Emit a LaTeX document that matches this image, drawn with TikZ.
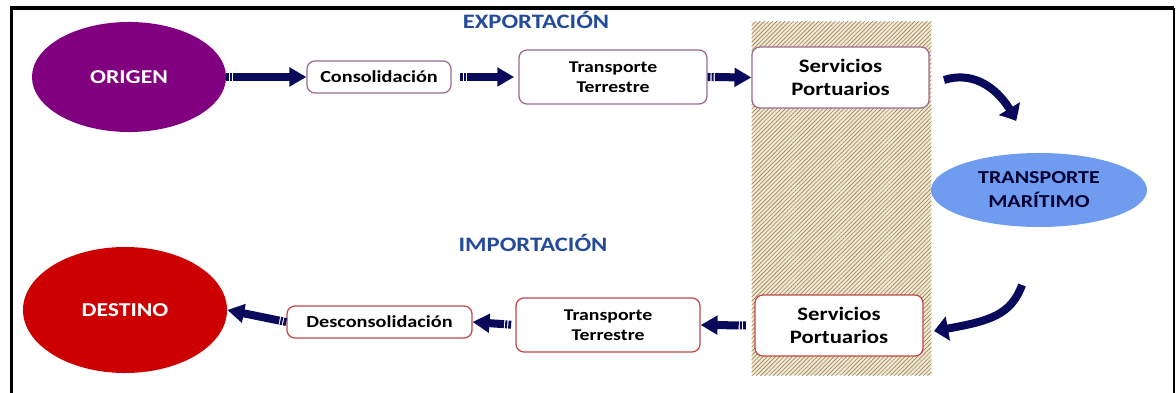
\documentclass[tikz,border=0pt]{standalone}
\usepackage{fontspec}
\setmainfont{Carlito}[FakeStretch=1.2]
\usepackage{tikz}
\usetikzlibrary{shapes.geometric, arrows.meta, positioning, patterns.meta, bending}

\definecolor{origenpurple}{HTML}{800080}
\definecolor{destinored}{HTML}{CC0000}
\definecolor{maritblue}{HTML}{6F9CEE}
\definecolor{arrownavy}{HTML}{0A0A5C}
\definecolor{titleblue}{HTML}{244B9A}
\definecolor{expborder}{HTML}{9A6B8E}
\definecolor{impborder}{HTML}{C04848}
\definecolor{zonebg}{HTML}{F2E8CF}
\definecolor{zoneline}{HTML}{988562}

\begin{document}
\begin{tikzpicture}[x=0.025cm, y=-0.025cm]
        \tikzset{
            place/.style={draw=none, ellipse, inner sep=0pt, font=\bfseries\fontsize{14}{17}\selectfont},
            expbox/.style={draw=expborder, line width=0.9pt, rounded corners=0.2cm, fill=white, align=center, inner sep=0pt, font=\bfseries\fontsize{11.7}{14.5}\selectfont},
            impbox/.style={expbox, draw=impborder},
            onebox/.style={font=\bfseries\fontsize{12}{14}\selectfont},
            portbox/.style={font=\bfseries\fontsize{13.5}{16.5}\selectfont},
            phase/.style={text=titleblue, font=\bfseries\fontsize{14.6}{16}\selectfont},
            flow/.style={draw=arrownavy, line width=5.7pt, -{Triangle[length=12pt, width=13pt]},
                dash pattern=on 2pt off 0.8pt on 1.5pt off 0.8pt on 300pt off 1pt},
            turn/.style={draw=arrownavy, line width=5.7pt, -{Triangle[length=10pt, width=17pt, bend]}}
        }

        \useasboundingbox (0,0) rectangle (1176,393);

        % Frame
        \draw[line width=2.8pt] (11.5,393) -- (11.5,8) -- (1174,8);
        \draw[line width=1.4pt] (1174,8) -- (1174,393);

        % Port zone
        \node[draw=none, fill=zonebg, minimum width=4.475cm, minimum height=8.825cm] (zone) at (841.5,198.5) {};
        \fill[pattern={Lines[angle=45, distance=2.1pt, line width=0.45pt]}, pattern color=zoneline]
            (zone.south west) rectangle (zone.north east);

        % Places
        \node[place, fill=origenpurple, text=white, minimum width=4.85cm, minimum height=2.75cm] (origen) at (129,77) {ORIGEN};
        \node[place, fill=destinored, text=white, minimum width=5.1cm, minimum height=3.15cm] (destino) at (125,310) {DESTINO};
        \node[place, fill=maritblue, text=black!80!blue, align=center, font=\bfseries\fontsize{13}{17}\selectfont,
            minimum width=5.4cm, minimum height=1.85cm] (maritimo) at (1039,190) {TRANSPORTE\\MARÍTIMO};

        % Export chain
        \node[expbox, onebox, minimum width=3.6cm, minimum height=0.8cm] (consol) at (379,77) {Consolidación};
        \node[expbox, minimum width=4.7cm, minimum height=1.35cm] (terrexp) at (613,77) {Transporte\\Terrestre};
        \node[expbox, portbox, minimum width=4.425cm, minimum height=1.525cm] (portexp) at (840.5,77.5) {Servicios\\Portuarios};

        % Import chain
        \node[impbox, onebox, minimum width=4.625cm, minimum height=0.8cm] (desconsol) at (379.5,322) {Desconsolidación};
        \node[impbox, minimum width=4.6cm, minimum height=1.35cm] (terrimp) at (608,325) {Transporte\\Terrestre};
        \node[impbox, portbox, minimum width=4.2cm, minimum height=1.525cm] (portimp) at (839,325.5) {Servicios\\Portuarios};

        % Titles
        \node[phase] (export) at (536,20) {EXPORTACIÓN};
        \node[phase] (import) at (533,243) {IMPORTACIÓN};

        % Connections
        \draw[flow] (origen.east) -- (consol.west);
        \draw[flow, shorten <=6pt, shorten >=3pt] (consol.east) -- (terrexp.west);
        \draw[flow] (terrexp.east) -- (portexp.west);
        \draw[flow, shorten <=6pt] (portimp.west) -- (terrimp.east);
        \draw[flow, shorten <=3pt] (terrimp.west) -- (desconsol.east);
        \draw[flow] (desconsol.west) -- (destino.east);

        % Sea leg
        \coordinate (seaout) at (944,80);
        \coordinate (seadown) at (1016,121);
        \coordinate (seaup) at (1022,285);
        \coordinate (seain) at (934,331);
        \draw[turn] (seaout) .. controls (975,70) and (1002,90) .. (seadown);
        \draw[turn] (seaup) .. controls (1010,318) and (985,322) .. (seain);
    \end{tikzpicture}
\end{document}
